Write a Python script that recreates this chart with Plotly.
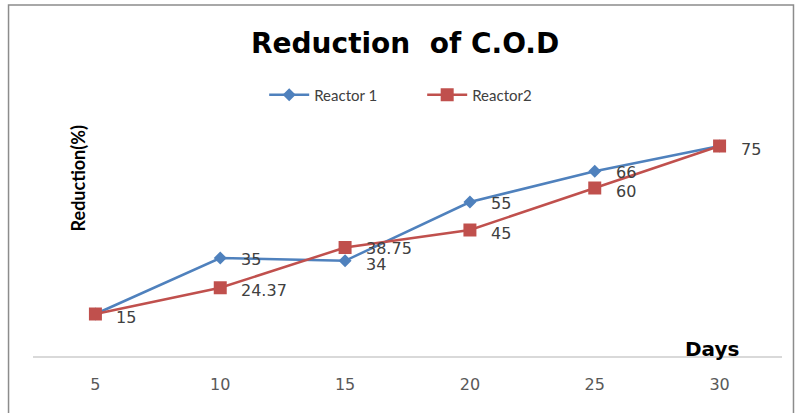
import plotly.graph_objects as go

days = [5, 10, 15, 20, 25, 30]
reactor1 = [15, 35, 34, 55, 66, 75]
reactor2 = [15, 24.37, 38.75, 45, 60, 75]
labels1 = ["15", "35", "34", "55", "66", "75"]
labels2 = ["15", "24.37", "38.75", "45", "60", "75"]

BLUE = "#4F81BD"
RED = "#C0504D"
FONT = "Lato, Open Sans, sans-serif"
WIDE = "DejaVu Sans, Verdana, sans-serif"

fig = go.Figure()
fig.add_trace(go.Scatter(x=days, y=reactor1, name="Reactor 1", mode="lines+markers",
                         line=dict(color=BLUE, width=2.5),
                         marker=dict(symbol="diamond", size=10, color=BLUE)))
fig.add_trace(go.Scatter(x=days, y=reactor2, name="Reactor2", mode="lines+markers",
                         line=dict(color=RED, width=2.5),
                         marker=dict(symbol="square", size=13, color=RED)))

anns = []
for x, y1, t1, y2, t2 in zip(days, reactor1, labels1, reactor2, labels2):
    below1 = y1 < y2
    if t1 != t2:
        anns.append(dict(x=x, y=y1, text=t1, xref="x", yref="y", showarrow=False,
                         xanchor="left", yanchor="middle", xshift=19,
                         yshift=-4 if below1 else -1,
                         font=dict(family=WIDE, size=16, color="#404040")))
    anns.append(dict(x=x, y=y2, text=t2, xref="x", yref="y", showarrow=False,
                     xanchor="left", yanchor="middle", xshift=19,
                     yshift=-1 if below1 else -3,
                     font=dict(family=WIDE, size=16, color="#404040")))

anns.append(dict(text="<b>Reduction(%)</b>", xref="paper", yref="paper",
                 x=(78 - 32.5) / 750, y=(356 - 178) / 280, textangle=-90,
                 showarrow=False, xanchor="center", yanchor="middle",
                 font=dict(family=FONT, size=18, color="#000000")))
anns.append(dict(text="<b>Days</b>", xref="paper", yref="paper",
                 x=(712 - 32.5) / 750, y=(356 - 349) / 280,
                 showarrow=False, xanchor="center", yanchor="middle",
                 font=dict(family=WIDE, size=20, color="#000000")))
anns.append(dict(text="<b>Reduction&nbsp; of C.O.D</b>", xref="paper", yref="paper",
                 x=(405 - 32.5) / 750, y=(356 - 44) / 280,
                 showarrow=False, xanchor="center", yanchor="middle",
                 font=dict(family=WIDE, size=28, color="#000000")))

fig.update_layout(
    width=796, height=413,
    margin=dict(l=32.5, r=13.5, t=76, b=57),
    paper_bgcolor="white", plot_bgcolor="white",
    showlegend=True,
    legend=dict(orientation="h", x=(264 - 32.5) / 750, y=(356 - 95) / 280,
                xanchor="left", yanchor="middle", xref="paper", yref="paper",
                font=dict(family=FONT, size=15, color="#404040"),
                itemwidth=40, entrywidth=103, entrywidthmode="pixels",
                bgcolor="rgba(0,0,0,0)"),
    annotations=anns,
    xaxis=dict(range=[2.5, 32.5], tickvals=days, ticktext=[str(d) for d in days],
               showgrid=False, zeroline=False, showline=True, linecolor="#D9D9D9",
               linewidth=2, ticks="", ticklabelstandoff=13,
               tickfont=dict(family=WIDE, size=16, color="#595959")),
    yaxis=dict(range=[0, 100], showticklabels=False, showgrid=False,
               zeroline=False, showline=False, ticks=""),
    shapes=[dict(type="rect", xref="paper", yref="paper",
                 x0=(8 - 32.5) / 750, x1=(794 - 32.5) / 750,
                 y0=(356 - 430) / 280, y1=(356 - 5) / 280,
                 line=dict(color="#8C8C8C", width=1.5), layer="below")],
)

fig.write_html("out.html")
